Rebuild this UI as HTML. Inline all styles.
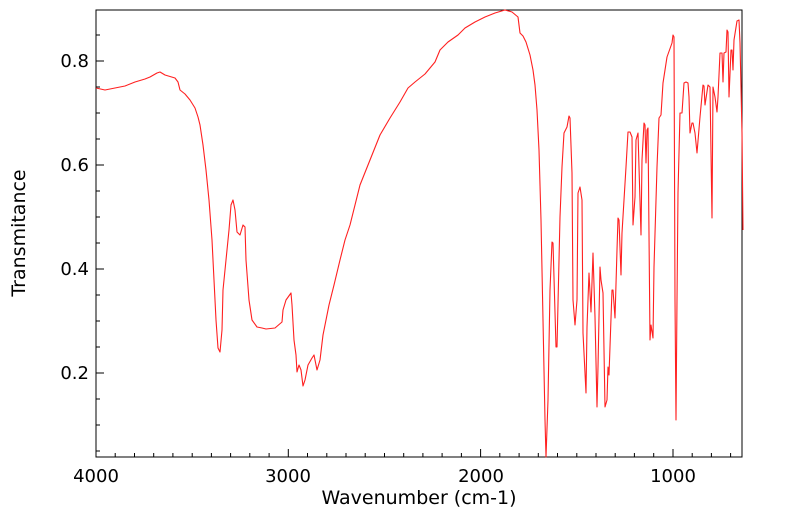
<!DOCTYPE html>
<html><head><meta charset="utf-8"><style>
body{margin:0;background:#fff;}
svg{display:block;font-family:"DejaVu Sans","Liberation Sans",sans-serif;}
</style></head><body>
<svg width="799" height="516" viewBox="0 0 799 516" xmlns="http://www.w3.org/2000/svg">
<rect width="799" height="516" fill="#fff"/>
<g stroke="#000" stroke-width="1">
<line x1="96" y1="373" x2="104" y2="373"/><line x1="96" y1="269" x2="104" y2="269"/>
<line x1="96" y1="165" x2="104" y2="165"/><line x1="96" y1="61" x2="104" y2="61"/>
<line x1="96" y1="451" x2="100" y2="451"/><line x1="96" y1="425" x2="100" y2="425"/><line x1="96" y1="399" x2="100" y2="399"/>
<line x1="96" y1="347" x2="100" y2="347"/><line x1="96" y1="321" x2="100" y2="321"/><line x1="96" y1="295" x2="100" y2="295"/>
<line x1="96" y1="243" x2="100" y2="243"/><line x1="96" y1="217" x2="100" y2="217"/><line x1="96" y1="191" x2="100" y2="191"/>
<line x1="96" y1="139" x2="100" y2="139"/><line x1="96" y1="113" x2="100" y2="113"/><line x1="96" y1="87" x2="100" y2="87"/>
<line x1="96" y1="35" x2="100" y2="35"/>
</g>
<path stroke="#000" stroke-width="1" fill="none" d="
M96,457V449 M288.3,457V449 M480.6,457V449 M673,457V449
M115.2,457V453 M134.5,457V453 M153.7,457V453 M172.9,457V453 M192.2,457V453 M211.4,457V453 M230.6,457V453 M249.8,457V453 M269.1,457V453
M307.5,457V453 M326.8,457V453 M346,457V453 M365.2,457V453 M384.5,457V453 M403.7,457V453 M422.9,457V453 M442.1,457V453 M461.4,457V453
M499.8,457V453 M519.1,457V453 M538.3,457V453 M557.5,457V453 M576.8,457V453 M596,457V453 M615.2,457V453 M634.4,457V453 M653.7,457V453
M692.2,457V453 M711.4,457V453 M730.6,457V453"/>
<rect x="96" y="10" width="646" height="447" fill="none" stroke="#000" stroke-width="1"/>
<polyline fill="none" stroke="#ff2020" stroke-width="1.1" stroke-linejoin="round" points="
96,88 105,90 115,88 125,86 135,82 145,79 150,77 157,73 160,72 165,75 175,78 178,82 180,90 185,94 190,100 195,108 198,117 200,125 203,145 206,170 209,200 212,240 214,280 216,320 218,348 220,352 222,330 223,290 226,260 229,230 231,205 233,200 235,210 237,232 240,235 243,225 245,227 246,260 249,300 252,320 257,327 262,328 266,329 275,328 282,322 283,310 286,300 291,293 292,305 294,340 296,355 297,372 299,365 301,370 303,386 305,380 308,365 312,358 314,355 317,370 320,360 323,335 326,320 329,305 334,285 340,260 345,240 350,225 355,205 360,185 370,160 380,135 390,118 400,102 408,88 415,82 425,74 435,62 440,50 448,42 458,35 465,28 475,22 485,17 495,13 505,10 512,12 518,17 520,33 523,36 526,42 530,55 533,70 535,85 537,110 539,150 541,220 543,320 545,420 546,457 548,400 550,290 552,242 553,243 556,347 557,347 560,217 562,167 564,133 567,127 569,116 570,118 572,173 573,300 575,325 577,300 578,193 580,187 582,200 583,333 586,393 587,327 589,273 591,312 593,253 595,317 597,407 598,367 600,267 601,280 603,293 605,407 607,400 608,367 609,375 612,290 613,290 615,318 617,250 618,218 619,220 621,275 622,233 624,200 626,167 628,132 630,132 632,137 633,225 635,197 636,140 638,133 641,235 642,160 644,123 645,125 646,163 647,130 648,128 650,340 651,325 653,338 654,267 657,167 659,118 661,115 663,83 667,57 672,43 673,35 674,37 675,300 676,420 677,300 678,193 680,113 682,113 684,83 686,82 688,83 689,97 690,133 692,123 693,123 695,133 697,153 700,117 703,85 704,86 705,105 708,85 710,87 712,218 713,87 715,97 717,112 718,97 720,53 722,53 723,82 724,53 726,52 727,30 728,32 729,97 731,50 732,50 733,70 734,40 737,21 739,20 740,43 742,133 743,230"/>
<g font-size="18" fill="#000">
<text x="89" y="67" text-anchor="end">0.8</text>
<text x="89" y="171" text-anchor="end">0.6</text>
<text x="89" y="275" text-anchor="end">0.4</text>
<text x="89" y="379" text-anchor="end">0.2</text>
<text x="96" y="482" text-anchor="middle">4000</text>
<text x="288" y="482" text-anchor="middle">3000</text>
<text x="481" y="482" text-anchor="middle">2000</text>
<text x="673" y="482" text-anchor="middle">1000</text>
</g>
<g font-size="19" fill="#000">
<text x="419" y="504" text-anchor="middle">Wavenumber (cm-1)</text>
<text transform="translate(25,233) rotate(-90)" text-anchor="middle">Transmitance</text>
</g>
</svg>
</body></html>
